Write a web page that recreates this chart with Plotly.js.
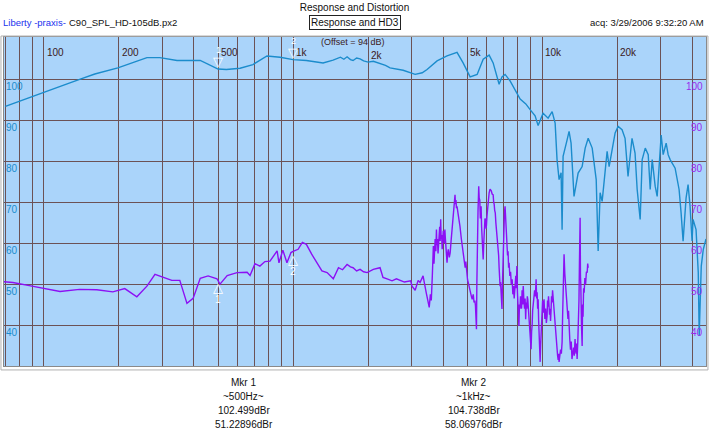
<!DOCTYPE html>
<html>
<head>
<meta charset="utf-8">
<script src="https://cdn.plot.ly/plotly-3.0.1.min.js"></script>
<style>
html,body{margin:0;padding:0;background:#ffffff;}
#chart{width:709px;height:440px;}
</style>
</head>
<body>
<div id="chart"></div>
<script>
// ---- Data ----
const respFreq = [70,80,90,100,120,139,160,198,230,259,292,342,424,460,500,540,613,690,786,887,950,1000,1131,1320,1448,1550,1600,1648,1700,1742,1800,1858,1920,2001,2100,2235,2350,2452,2600,2767,3092,3300,3452,3786,4152,4554,4818,5141,5485,5800,6128,6359,6720,6900,7103,7437,8163,8600,8951,9372,9638,10090,10570,10970,11280,11480,11700,11920,12030,12140,12600,12830,13070,13430,13950,14480,14890,15310,15890,16490,16790,17100,17420,17910,18240,18580,19640,20190,20940,21530,22130,22960,23610,24080,24760,25220,25950,26670,27160,27670,28440,28970,29510,30060,30620,31480,32070,32660,34200,35480,36140,36820,37840,38550,39270,40000,40370,41500,42360,42730,43550,44380,45500];
const respDb = [93.4,94.7,95.8,97.0,98.6,100.0,101.3,102.8,104.3,105.3,105.3,104.6,104.6,103.6,102.5,102.4,102.7,103.6,105.7,105.4,105.0,104.8,104.6,104.0,104.7,105.4,104.9,105.5,104.8,104.6,105.2,105.0,104.5,104.2,104.4,103.9,103.4,102.8,102.5,102.2,101.2,101.6,102.4,104.5,105.7,106.6,104.0,100.6,101.2,104.9,105.9,104.0,98.8,100.6,101.2,99.6,95.2,94.0,92.6,91.1,88.7,91.7,90.5,92.1,89.3,80.4,75.5,77.2,63.3,81.2,85.2,87.3,84.4,71.4,77.1,78.7,83.2,85.6,83.2,75.5,58.1,72.3,70.2,77.9,82.4,78.7,86.9,88.5,87.7,85.6,76.3,85.6,82.0,73.1,65.8,80.4,83.2,81.6,73.1,80.4,73.9,71.4,78.7,86.4,81.6,84.4,81.6,80.4,78.3,73.1,67.4,60.5,71.0,74.3,69.0,60.5,65.8,63.3,52.8,37.4,54.4,58.5,61.0];

const hd3Freq = [68.4,75,89.5,116,139,163,189,211,236,259,279,326,351,375,397,424,456,495,509,544,596,654,672,703,736,771,808,863,878,910,945,981,1000,1048,1090,1131,1188,1223,1258,1306,1370,1410,1451,1522,1580,1648,1700,1742,1800,1858,1920,1984,2100,2235,2297,2400,2497,2600,2688,2800,2967,3003,3092,3179,3235,3327,3425,3522,3560,3590,3624,3645,3659,3680,3700,3720,3745,3765,3780,3800,3820,3840,3860,3880,3898,3915,3932,3950,3970,3990,4010,4030,4050,4070,4090,4110,4130,4152,4175,4200,4240,4275,4310,4350,4390,4420,4445,4470,4490,4510,4530,4554,4590,4620,4650,4680,4740,4800,4850,4910,4940,4980,5020,5050,5100,5150,5200,5240,5290,5330,5370,5400,5430,5450,5470,5485,5510,5530,5550,5565,5590,5620,5650,5690,5715,5740,5770,5800,5830,5860,5895,5930,5960,5980,6005,6030,6060,6080,6105,6128,6180,6250,6300,6360,6390,6420,6450,6485,6520,6560,6610,6660,6690,6720,6750,6780,6810,6840,6870,6900,6930,6960,6990,7020,7060,7100,7130,7160,7195,7230,7265,7300,7335,7370,7420,7470,7520,7580,7630,7680,7725,7770,7800,7840,7880,7920,7960,8000,8035,8070,8110,8150,8190,8230,8270,8310,8355,8400,8450,8500,8545,8590,8635,8680,8720,8760,8830,8900,8960,9030,9075,9120,9160,9200,9265,9330,9395,9460,9505,9550,9595,9640,9685,9730,9775,9820,9865,9910,9955,10000,10045,10090,10135,10180,10255,10330,10400,10470,10515,10560,10610,10660,10710,10760,10810,10860,10910,10960,11015,11070,11125,11180,11230,11280,11330,11380,11430,11480,11540,11600,11650,11700,11780,11860,11945,12030,12085,12140,12195,12250,12335,12420,12510,12600,12650,12700,12765,12830,12915,13000,13090,13180,13275,13370,13465,13560,13630,13700,13760,13820,13910,14000,14060,14120,14165,14210,14255,14300,14390,14480,14540,14600,14675,14750,14850,14950,15060,15170,15240,15310];
const hd3Db = [50.6,50.4,49.5,48.2,48.7,48.6,48.1,48.9,46.9,49.5,52.4,50.9,50.9,45.3,46.5,51.4,52.0,51.3,50.0,52.1,52.8,52.9,52.1,55.0,54.4,55.5,55.6,58.1,55.2,58.3,55.2,57.7,58.0,58.5,60.2,59.7,57.3,56.0,54.8,53.2,52.8,52.0,51.3,54.0,53.5,54.8,54.2,54.0,53.2,53.6,53.0,52.8,53.6,54.0,51.6,51.2,50.8,51.3,50.9,50.5,50.8,49.5,48.5,50.9,50.4,52.0,47.9,44.3,47.5,46.0,52.0,56.0,59.3,55.0,57.0,61.0,58.0,63.3,59.5,61.0,57.5,59.3,63.0,64.0,60.5,65.8,61.0,62.0,58.5,60.1,63.0,62.5,60.0,63.3,61.0,59.0,57.0,55.2,57.5,58.5,56.5,57.7,60.5,63.0,66.5,68.0,70.5,71.8,69.5,70.5,68.5,69.0,67.5,66.5,65.0,64.1,61.0,58.5,56.5,54.0,55.5,52.0,51.0,50.4,49.0,48.0,47.0,46.3,47.5,45.5,46.0,44.7,42.0,39.0,50.0,59.3,64.0,68.0,71.0,73.9,71.0,70.5,66.0,69.0,64.0,62.0,58.0,56.0,60.0,63.0,66.0,65.8,63.5,64.5,66.5,67.8,69.0,70.0,71.5,72.3,73.2,72.8,72.0,71.8,70.0,69.5,68.0,67.4,65.0,63.0,61.5,59.3,57.0,54.0,52.5,49.5,50.5,46.0,47.5,43.9,50.0,55.0,60.0,64.0,67.5,69.0,66.0,64.0,62.5,60.9,57.0,58.0,54.0,55.2,52.0,53.0,50.0,51.2,47.5,49.5,46.5,48.7,50.5,52.0,49.0,54.4,48.0,46.0,43.0,39.8,45.0,44.0,47.0,46.3,44.0,48.5,45.0,49.5,46.0,44.0,46.5,41.4,45.5,44.0,47.0,46.3,43.0,40.0,37.0,34.1,38.5,40.0,43.5,44.7,47.0,48.5,47.0,51.2,46.5,48.0,44.0,46.3,41.0,38.0,34.0,31.0,35.0,38.0,41.0,43.1,46.0,45.0,43.0,46.3,41.5,44.0,40.5,42.2,46.0,44.5,47.0,45.5,42.5,44.0,41.0,43.5,47.0,45.5,48.5,46.7,44.5,43.0,41.0,39.8,37.0,36.0,34.5,33.3,32.5,31.5,33.0,31.0,32.0,34.0,33.0,35.8,42.0,48.0,52.0,57.3,52.5,50.0,46.5,44.7,42.0,41.5,43.5,39.0,36.5,34.0,36.0,31.7,33.0,34.5,32.5,36.6,34.0,33.0,35.5,31.7,36.0,40.0,46.0,55.0,60.0,66.2,52.0,50.0,40.0,34.9,45.0,42.0,49.0,47.9,51.5,50.0,53.0,52.8,55.0,54.0];

const xGridVals = [70,80,90,100,200,300,400,500,600,700,800,900,1000,2000,3000,4000,5000,6000,7000,8000,9000,10000,20000,30000,40000];
const xLabelVals = [100,200,500,1000,2000,5000,10000,20000];
const xLabelText = ["100","200","500","1k","2k","5k","10k","20k"];
const yLabelVals = [100,90,80,70,60,50,40];
const yLabelText = ["100","90","80","70","60","50","40"];

const markerNames = ["1","2"];
const markerFreq = [500,1000];
const markerFreqText = ["~500Hz~","~1kHz~"];
const markerResp = [102.499,104.738];
const markerHd3 = [51.22896,58.06976];

// ---- Styling ----
const FONT = "Liberation Sans, Arial, Helvetica, sans-serif";
const BLUE = "#1b8ccc";
const PURPLE = "#8c10f4";
const GRID = "#6c5256";
const LABEL_DARK = "#3a1a1a";

const traces = [
  {x: respFreq, y: respDb, type: "scatter", mode: "lines",
   line: {color: BLUE, width: 1.4}, hoverinfo: "skip"},
  {x: hd3Freq, y: hd3Db, type: "scatter", mode: "lines",
   line: {color: PURPLE, width: 1.4}, hoverinfo: "skip"}
];

const ann = [];
xLabelVals.forEach((v, i) => {
  ann.push({x: Math.log10(v), y: 1, xref: "x", yref: "paper", text: xLabelText[i],
    showarrow: false, xanchor: "left", yanchor: "top", xshift: 1,
    yshift: (xLabelText[i] === "2k") ? -11 : -8,
    font: {family: FONT, size: 10, color: LABEL_DARK}});
});
yLabelVals.forEach((v, i) => {
  ann.push({x: 0, y: v, xref: "paper", yref: "y", text: yLabelText[i],
    showarrow: false, xanchor: "left", yanchor: "top", xshift: 0, yshift: 0,
    font: {family: FONT, size: 10, color: BLUE}});
  ann.push({x: 1, y: v, xref: "paper", yref: "y", text: yLabelText[i],
    showarrow: false, xanchor: "right", yanchor: "top", xshift: -1, yshift: 0,
    font: {family: FONT, size: 10, color: "#9a28ee"}});
});
// markers on the curves
markerFreq.forEach((f, i) => {
  ann.push({x: Math.log10(f), y: markerResp[i], xref: "x", yref: "y", text: "▽",
    showarrow: false, xanchor: "center", yanchor: "bottom", yshift: -2,
    font: {family: "DejaVu Sans", size: 13, color: "#ffffff"}});
  ann.push({x: Math.log10(f), y: markerResp[i], xref: "x", yref: "y", text: markerNames[i],
    showarrow: false, xanchor: "center", yanchor: "bottom", yshift: 12,
    font: {family: FONT, size: 9, color: "#ffffff"}});
  ann.push({x: Math.log10(f), y: markerHd3[i], xref: "x", yref: "y", text: "△",
    showarrow: false, xanchor: "center", yanchor: "top", yshift: 1,
    font: {family: "DejaVu Sans", size: 13, color: "#ffffff"}});
  ann.push({x: Math.log10(f), y: markerHd3[i], xref: "x", yref: "y", text: markerNames[i],
    showarrow: false, xanchor: "center", yanchor: "top", yshift: -13,
    font: {family: FONT, size: 10, color: "#ffffff"}});
});
// header texts
ann.push({x: 0, y: 1, xref: "paper", yref: "paper", text: "Liberty -praxis-",
  showarrow: false, xanchor: "left", yanchor: "middle", xshift: -3, yshift: 15,
  font: {family: FONT, size: 9.5, color: "#2233ee"}});
ann.push({x: 0, y: 1, xref: "paper", yref: "paper", text: "C90_SPL_HD-105dB.px2",
  showarrow: false, xanchor: "left", yanchor: "middle", xshift: 63, yshift: 15,
  font: {family: FONT, size: 9.5, color: "#111111"}});
ann.push({x: 1, y: 1, xref: "paper", yref: "paper", text: "acq: 3/29/2006 9:32:20 AM",
  showarrow: false, xanchor: "right", yanchor: "middle", xshift: 0, yshift: 15,
  font: {family: FONT, size: 9.5, color: "#111111"}});
ann.push({x: 0.5, y: 1, xref: "paper", yref: "paper", text: "Response and HD3",
  showarrow: false, xanchor: "center", yanchor: "middle", xshift: 0, yshift: 15,
  bordercolor: "#222222", borderwidth: 1, borderpad: 1, bgcolor: "#ffffff",
  font: {family: FONT, size: 10, color: "#111111"}});
ann.push({x: 0.5, y: 1, xref: "paper", yref: "paper", text: "(Offset = 94 dB)",
  showarrow: false, xanchor: "center", yanchor: "middle", xshift: -2, yshift: -5,
  font: {family: FONT, size: 9, color: LABEL_DARK}});
// marker readouts below the plot
const mkrX = [0.3413, 0.6690];
markerNames.forEach((n, i) => {
  const lines = ["Mkr " + n, markerFreqText[i], markerResp[i].toFixed(3) + "dBr", markerHd3[i].toFixed(5) + "dBr"];
  lines.forEach((t, j) => {
    ann.push({x: mkrX[i], y: 0, xref: "paper", yref: "paper", text: t,
      showarrow: false, xanchor: "center", yanchor: "middle", yshift: -16 - 14 * j,
      font: {family: FONT, size: 10, color: "#111111"}});
  });
});

const layout = {
  width: 709, height: 440,
  margin: {l: 4, r: 3, t: 37, b: 74, pad: 0},
  paper_bgcolor: "#ffffff",
  plot_bgcolor: "#aad4fa",
  showlegend: false,
  hovermode: false,
  title: {text: "Response and Distortion", x: 0.5, xanchor: "center", y: 0.984, yanchor: "middle",
    yref: "container", font: {family: FONT, size: 10, color: "#111111"}},
  xaxis: {type: "log", range: [Math.log10(69.1), Math.log10(45500)],
    tickmode: "array", tickvals: xGridVals, ticktext: xGridVals.map(() => ""),
    showticklabels: false, ticks: "", showgrid: true, gridcolor: GRID, gridwidth: 1,
    zeroline: false, showline: true, linecolor: "#8a8a8a", linewidth: 1, mirror: true,
    fixedrange: true},
  yaxis: {range: [30, 110.33], tickmode: "array", tickvals: yLabelVals,
    showticklabels: false, ticks: "", showgrid: true, gridcolor: GRID, gridwidth: 1,
    zeroline: false, showline: true, linecolor: "#8a8a8a", linewidth: 1, mirror: true,
    fixedrange: true},
  annotations: ann,
  shapes: [
    {type: "rect", xref: "paper", yref: "paper", x0: -0.0043, x1: 1.0028, y0: -0.012, y1: 1.003,
     line: {color: "#b0b0b0", width: 1}, fillcolor: "rgba(0,0,0,0)", layer: "above"}
  ]
};

Plotly.newPlot("chart", traces, layout, {displayModeBar: false, staticPlot: true});
</script>
</body>
</html>
